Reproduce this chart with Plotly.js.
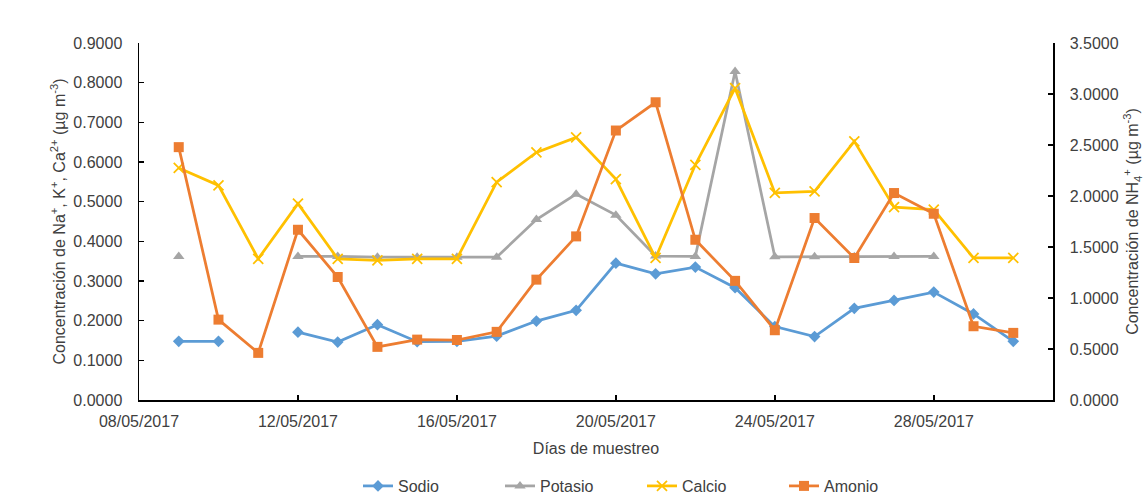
<!DOCTYPE html>
<html>
<head>
<meta charset="utf-8">
<script src="https://cdn.plot.ly/plotly-3.0.1.min.js"></script>
<style>html,body{margin:0;padding:0;background:#fff;}#chart{width:1145px;height:499px;}</style>
</head>
<body>
<div id="chart"></div>
<script>
var fechas = ['2017-05-09','2017-05-10','2017-05-11','2017-05-12','2017-05-13','2017-05-14','2017-05-15','2017-05-16','2017-05-17','2017-05-18','2017-05-19','2017-05-20','2017-05-21','2017-05-22','2017-05-23','2017-05-24','2017-05-25','2017-05-26','2017-05-27','2017-05-28','2017-05-29','2017-05-30'];
var sodio   = [0.148,0.148,null,0.171,0.146,0.190,0.147,0.148,0.161,0.199,0.226,0.345,0.318,0.335,0.283,0.185,0.160,0.231,0.251,0.272,0.217,0.148];
var potasio = [0.362,null,null,0.362,0.362,0.360,0.360,0.360,0.360,0.455,0.519,0.466,0.363,0.362,0.828,0.361,0.361,0.361,0.362,0.362,null,null];
var calcio  = [0.585,0.541,0.356,0.495,0.356,0.352,0.356,0.356,0.549,0.624,0.662,0.557,0.358,0.593,0.786,0.522,0.526,0.652,0.486,0.480,0.358,0.358];
var amonio  = [2.479,0.788,0.462,1.669,1.206,0.521,0.592,0.588,0.668,1.180,1.604,2.642,2.919,1.571,1.168,0.684,1.784,1.392,2.029,1.826,0.723,0.658];
var ticksIzq = [0,0.1,0.2,0.3,0.4,0.5,0.6,0.7,0.8,0.9];
var ticksDer = [0,0.5,1.0,1.5,2.0,2.5,3.0,3.5];

var FONT = 'Liberation Sans, Arial, sans-serif';
var TXT = '#404040';

var traces = [
  {x: fechas, y: sodio, name: 'Sodio', type: 'scatter', mode: 'lines+markers', connectgaps: false,
   line: {color: '#5B9BD5', width: 2.75}, marker: {symbol: 'diamond', size: 9, color: '#5B9BD5'}},
  {x: fechas, y: potasio, name: 'Potasio', type: 'scatter', mode: 'lines+markers', connectgaps: false,
   line: {color: '#A5A5A5', width: 2.75}, marker: {symbol: 'triangle-up', size: 10, color: '#A5A5A5'}},
  {x: fechas, y: calcio, name: 'Calcio', type: 'scatter', mode: 'lines+markers', connectgaps: false,
   line: {color: '#FFC000', width: 2.75}, marker: {symbol: 'x-thin-open', size: 10, color: '#FFC000', line: {color: '#FFC000', width: 1.75}}},
  {x: fechas, y: amonio, name: 'Amonio', type: 'scatter', mode: 'lines+markers', connectgaps: false, yaxis: 'y2',
   line: {color: '#ED7D31', width: 2.75}, marker: {symbol: 'square', size: 10, color: '#ED7D31'}}
];

var layout = {
  width: 1145, height: 499,
  margin: {l: 139, r: 92, t: 43, b: 98.5},
  paper_bgcolor: '#ffffff', plot_bgcolor: '#ffffff',
  font: {family: FONT, size: 16, color: TXT},
  showlegend: true,
  legend: {orientation: 'h', xref: 'container', yref: 'container', x: 358/1145, xanchor: 'left',
           y: 13/499, yanchor: 'middle',
           font: {family: FONT, size: 16, color: TXT}, entrywidthmode: 'pixels', entrywidth: 97,
           itemwidth: 30, traceorder: 'normal'},
  xaxis: {
    type: 'date', range: ['2017-05-08', '2017-05-31'], tick0: '2017-05-08', dtick: 4*86400000,
    tickformat: '%d/%m/%Y', ticks: 'inside', ticklen: 5, tickcolor: '#000', tickwidth: 1.5,
    showline: true, linecolor: '#000', linewidth: 1.5, showgrid: false, zeroline: false,
    tickfont: {family: FONT, size: 16, color: TXT}, ticklabelstandoff: 6,
    title: {text: 'Días de muestreo', font: {family: FONT, size: 16, color: TXT}, standoff: 14}
  },
  yaxis: {
    range: [0, 0.9], tickvals: ticksIzq, tickformat: '.4f', ticks: 'inside', ticklen: 5,
    tickcolor: '#000', tickwidth: 1.5, showline: true, linecolor: '#000', linewidth: 1.5,
    showgrid: false, zeroline: false, tickfont: {family: FONT, size: 16, color: TXT},
    ticklabelstandoff: 12,
    title: {text: 'Concentración de Na<sup>+</sup>, K<sup>+</sup>, Ca<sup>2+</sup> (µg m<sup>-3</sup>)',
            font: {family: FONT, size: 16, color: TXT}, standoff: 4}
  },
  yaxis2: {
    overlaying: 'y', side: 'right', range: [0, 3.5], tickvals: ticksDer, tickformat: '.4f',
    ticks: 'inside', ticklen: 5, tickcolor: '#000', tickwidth: 1.5, showline: true,
    linecolor: '#000', linewidth: 1.5, showgrid: false, zeroline: false,
    tickfont: {family: FONT, size: 16, color: TXT}, ticklabelstandoff: 12,
    title: {text: 'Concentración de NH<sub>4</sub><sup>+</sup> (µg m<sup>-3</sup>)',
            font: {family: FONT, size: 16, color: TXT}, standoff: 9}
  }
};

Plotly.newPlot('chart', traces, layout, {displayModeBar: false, staticPlot: true});
</script>
</body>
</html>
